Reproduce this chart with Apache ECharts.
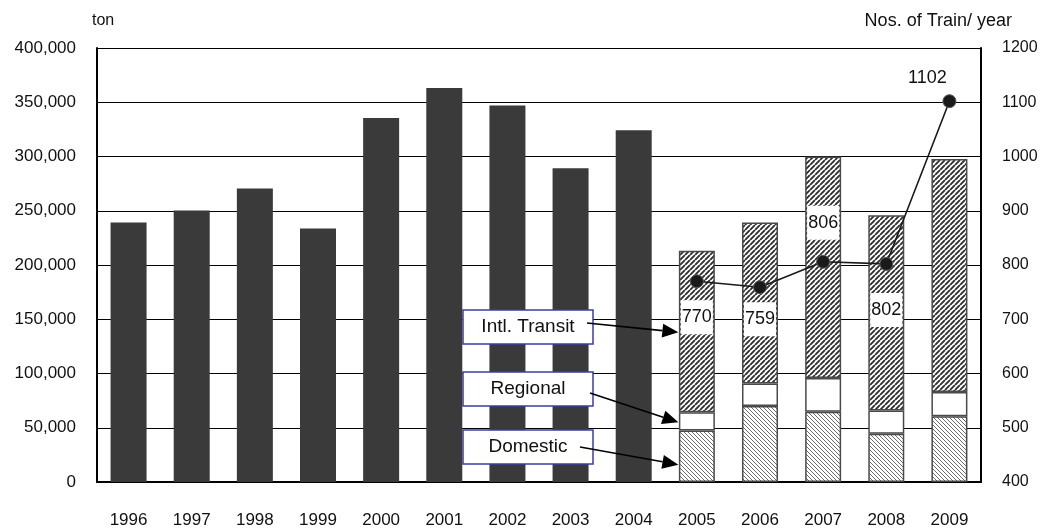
<!DOCTYPE html>
<html>
<head>
<meta charset="utf-8">
<title>Freight tonnage and trains per year</title>
<script src="https://cdn.jsdelivr.net/npm/echarts@6/dist/echarts.min.js"></script>
<style>
  html, body { margin: 0; padding: 0; background: #fff; }
  #chart { width: 1044px; height: 529px; }
</style>
</head>
<body>
<div id="chart"></div>
<script>
// ---- data ----
const years = ['1996', '1997', '1998', '1999', '2000', '2001', '2002', '2003', '2004', '2005', '2006', '2007', '2008', '2009'];
const totalTons    = [239200, 250300, 270600, 233600, 335500, 363200, 347000, 289200, 324300, null, null, null, null, null];
const domesticTons = [null, null, null, null, null, null, null, null, null, 47500, 70000, 64800, 44400, 60700];
const regionalTons = [null, null, null, null, null, null, null, null, null, 16900, 20700, 31100, 21600, 22300];
const transitTons  = [null, null, null, null, null, null, null, null, null, 148800, 148500, 204100, 179900, 214800];
const trainsPerYear = [null, null, null, null, null, null, null, null, null, 770, 759, 806, 802, 1102];
const calloutNames = ['Intl. Transit', 'Regional', 'Domestic'];

// ---- look ----
const SANS = '"Liberation Sans", Arial, sans-serif';
const BAR_W = 36;

// where each train-count label sits relative to its point
const trainLabelPlacement = [
  null, null, null, null, null, null, null, null, null,
  { position: 'bottom', distance: 12 },
  { position: 'bottom', distance: 8 },
  { position: 'top', distance: 15 },
  { position: 'bottom', distance: 22 },
  { position: 'top', distance: 6, offset: [-22, 0], boxed: false }
];

// diagonal hatch fill drawn on a small tile
function hatch(forward, stroke, width, step) {
  const c = document.createElement('canvas');
  c.width = c.height = step;
  const g = c.getContext('2d');
  g.fillStyle = '#ffffff';
  g.fillRect(0, 0, step, step);
  g.strokeStyle = stroke;
  g.lineWidth = width;
  g.beginPath();
  for (const o of [-step, 0, step]) {
    if (forward) { g.moveTo(o, step); g.lineTo(o + step, 0); }
    else { g.moveTo(o, 0); g.lineTo(o + step, step); }
  }
  g.stroke();
  return { image: c, repeat: 'repeat' };
}

const transitFill = hatch(true, '#303030', 1.9, 5);
const domesticFill = hatch(false, '#6e6e6e', 1, 4);

const stackStyle = (fill) => ({ color: fill, borderColor: '#4a4a4a', borderWidth: 1.5 });

const chart = echarts.init(document.getElementById('chart'), null, { renderer: 'canvas' });

const option = {
  animation: false,
  backgroundColor: '#ffffff',
  grid: { left: 97, right: 63, top: 48, bottom: 47 },
  xAxis: {
    type: 'category',
    data: years,
    axisLine: { lineStyle: { color: '#000', width: 2 } },
    axisTick: { inside: true, length: 7, lineStyle: { color: '#444', width: 1 } },
    axisLabel: { margin: 30, fontFamily: SANS, fontSize: 17, color: '#111' }
  },
  yAxis: [
    {
      type: 'value', min: 0, max: 400000, interval: 50000,
      axisLine: { show: true, lineStyle: { color: '#000', width: 2 } },
      axisTick: { show: false },
      splitLine: { lineStyle: { color: '#000', width: 1 } },
      axisLabel: {
        margin: 21, fontFamily: SANS, fontSize: 17, color: '#111',
        formatter: (v) => v.toLocaleString('en-US')
      }
    },
    {
      type: 'value', min: 400, max: 1200, interval: 100,
      axisLine: { show: true, lineStyle: { color: '#000', width: 2 } },
      axisTick: { show: false },
      splitLine: { show: false },
      axisLabel: { margin: 21, fontFamily: SANS, fontSize: 16, color: '#111', formatter: (v) => String(v) }
    }
  ],
  series: [
    {
      name: 'Total', type: 'bar', data: totalTons, barWidth: BAR_W,
      itemStyle: { color: '#3a3a3a' }
    },
    {
      name: 'Domestic', type: 'bar', stack: 'freight', data: domesticTons, barWidth: BAR_W,
      itemStyle: stackStyle(domesticFill)
    },
    {
      name: 'Regional', type: 'bar', stack: 'freight', data: regionalTons, barWidth: BAR_W,
      itemStyle: stackStyle('#ffffff')
    },
    {
      name: 'Intl. Transit', type: 'bar', stack: 'freight', data: transitTons, barWidth: BAR_W,
      barGap: '-100%',
      itemStyle: stackStyle(transitFill)
    },
    {
      name: 'Nos. of Train/ year', type: 'line', yAxisIndex: 1, z: 5,
      data: trainsPerYear.map((v, i) => {
        const p = trainLabelPlacement[i];
        if (v == null || !p) return v;
        const boxed = p.boxed !== false;
        return {
          value: v,
          label: {
            position: p.position, distance: p.distance, offset: p.offset || [0, 0],
            backgroundColor: boxed ? '#ffffff' : 'transparent',
            padding: boxed ? [7, 1] : 0
          }
        };
      }),
      symbol: 'circle', symbolSize: 13,
      lineStyle: { color: '#1a1a1a', width: 1.6 },
      itemStyle: { color: '#1a1a1a', borderColor: '#5a5a5a', borderWidth: 1 },
      label: {
        show: true, fontFamily: SANS, fontSize: 18, lineHeight: 20, color: '#111'
      }
    }
  ]
};

chart.setOption(option);

// ---- call-out boxes with arrows pointing into the 2005 stack ----
const calloutTargets = [138000, 55000, 16000];
const calloutBoxTop = [310, 372, 430];
const calloutTail = [[587, 323], [590, 393], [580, 447]];
const BOX_X = 463, BOX_W = 130, BOX_H = 34;

function arrow(from, to) {
  const dx = to[0] - from[0], dy = to[1] - from[1];
  const len = Math.hypot(dx, dy);
  const ux = dx / len, uy = dy / len;
  const headL = 16, headW = 7;
  const bx = to[0] - ux * headL, by = to[1] - uy * headL;
  return [
    { type: 'line', z: 20, shape: { x1: from[0], y1: from[1], x2: bx, y2: by },
      style: { stroke: '#000', lineWidth: 1.6 } },
    { type: 'polygon', z: 20,
      shape: { points: [to, [bx - uy * headW, by + ux * headW], [bx + uy * headW, by - ux * headW]] },
      style: { fill: '#000' } }
  ];
}

const graphics = [
  { type: 'text', left: 92, top: 13, z: 20,
    style: { text: 'ton', font: '16px ' + SANS, fill: '#111' } },
  { type: 'text', right: 32, top: 12, z: 20,
    style: { text: 'Nos. of Train/ year', font: '18px ' + SANS, fill: '#111' } }
];

calloutNames.forEach((name, i) => {
  const c = chart.convertToPixel({ gridIndex: 0 }, [9, calloutTargets[i]]);
  const tip = [c[0] - BAR_W / 2 - 0.5, c[1]];
  graphics.push({
    type: 'rect', z: 19,
    shape: { x: BOX_X, y: calloutBoxTop[i], width: BOX_W, height: BOX_H },
    style: { fill: '#ffffff', stroke: '#3c3ca8', lineWidth: 1.5 }
  });
  graphics.push({
    type: 'text', z: 21,
    x: BOX_X + BOX_W / 2, y: calloutBoxTop[i] + BOX_H / 2,
    style: { text: name, font: '19px ' + SANS, fill: '#111', align: 'center', verticalAlign: 'middle' }
  });
  graphics.push(...arrow(calloutTail[i], tip));
});

chart.setOption({ graphic: graphics });
</script>
</body>
</html>
